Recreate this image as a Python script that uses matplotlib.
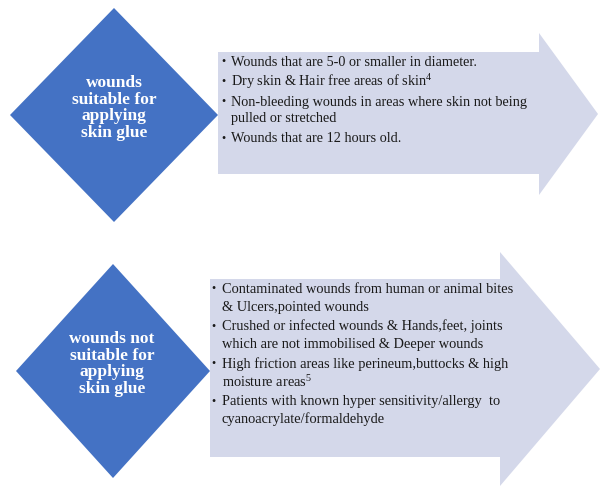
import matplotlib.pyplot as plt
from matplotlib.patches import Polygon

plt.rcParams['font.family'] = ['Liberation Serif', 'DejaVu Serif']
plt.rcParams['mathtext.default'] = 'regular'

# texts
top_label = "wounds\nsuitable for\napplying\nskin glue"
bottom_label = "wounds not\nsuitable for\napplying\nskin glue"

top_items = [
    "Wounds that are 5-0 or smaller in diameter.",
    "Dry skin & Hair free areas of skin$^{4}$",
    "Non-bleeding wounds in areas where skin not being\npulled or stretched",
    "Wounds that are 12 hours old.",
]
bottom_items = [
    "Contaminated wounds from human or animal bites\n& Ulcers,pointed wounds",
    "Crushed or infected wounds & Hands,feet, joints\nwhich are not immobilised & Deeper wounds",
    "High friction areas like perineum,buttocks & high\nmoisture areas$^{5}$",
    "Patients with known hyper sensitivity/allergy  to\ncyanoacrylate/formaldehyde",
]

blue = '#4472c4'
lav = '#d4d8ea'
ink = '#1a1a1a'

fig = plt.figure(figsize=(6.03, 4.86), dpi=100)
ax = fig.add_axes([0, 0, 1, 1])
ax.set_xlim(0, 603)
ax.set_ylim(486, 0)
ax.axis('off')


def diamond(cx, cy, hw, hh):
    pts = [(cx, cy - hh), (cx + hw, cy), (cx, cy + hh), (cx - hw, cy)]
    ax.add_patch(Polygon(pts, closed=True, fc=blue, ec='none', zorder=2))


def arrow(x0, x1, x2, y0, y1, hy0, hy1):
    cy = (hy0 + hy1) / 2
    pts = [(x0, y0), (x1, y0), (x1, hy0), (x2, cy), (x1, hy1), (x1, y1), (x0, y1)]
    ax.add_patch(Polygon(pts, closed=True, fc=lav, ec='none', zorder=1))


def bullets(items, bx, tx, y, within, between, size):
    for item in items:
        lines = item.split('\n')
        ax.text(bx, y, u'\u2022', fontsize=size * 0.85, color=ink, va='center', zorder=3)
        for ln in lines:
            ax.text(tx, y, ln, fontsize=size, color=ink, va='center', zorder=3)
            y += within
        y += between - within


# top block
arrow(218, 539, 598, 52, 174, 33, 195)
diamond(114, 115, 104, 107)
ax.text(114, 108, top_label, color='white', fontsize=12.5, fontweight='bold',
        ha='center', va='center', linespacing=1.05, zorder=3)
bullets(top_items, 221, 231, 62, 16.5, 20, 10.3)

# bottom block
arrow(210, 500, 600, 279, 457, 252, 486)
diamond(113, 371, 97, 107)
ax.text(112, 364, bottom_label, color='white', fontsize=12.5, fontweight='bold',
        ha='center', va='center', linespacing=1.05, zorder=3)
bullets(bottom_items, 211, 222, 289, 18, 19.5, 10.4)

fig.savefig('out.png', dpi=100)
